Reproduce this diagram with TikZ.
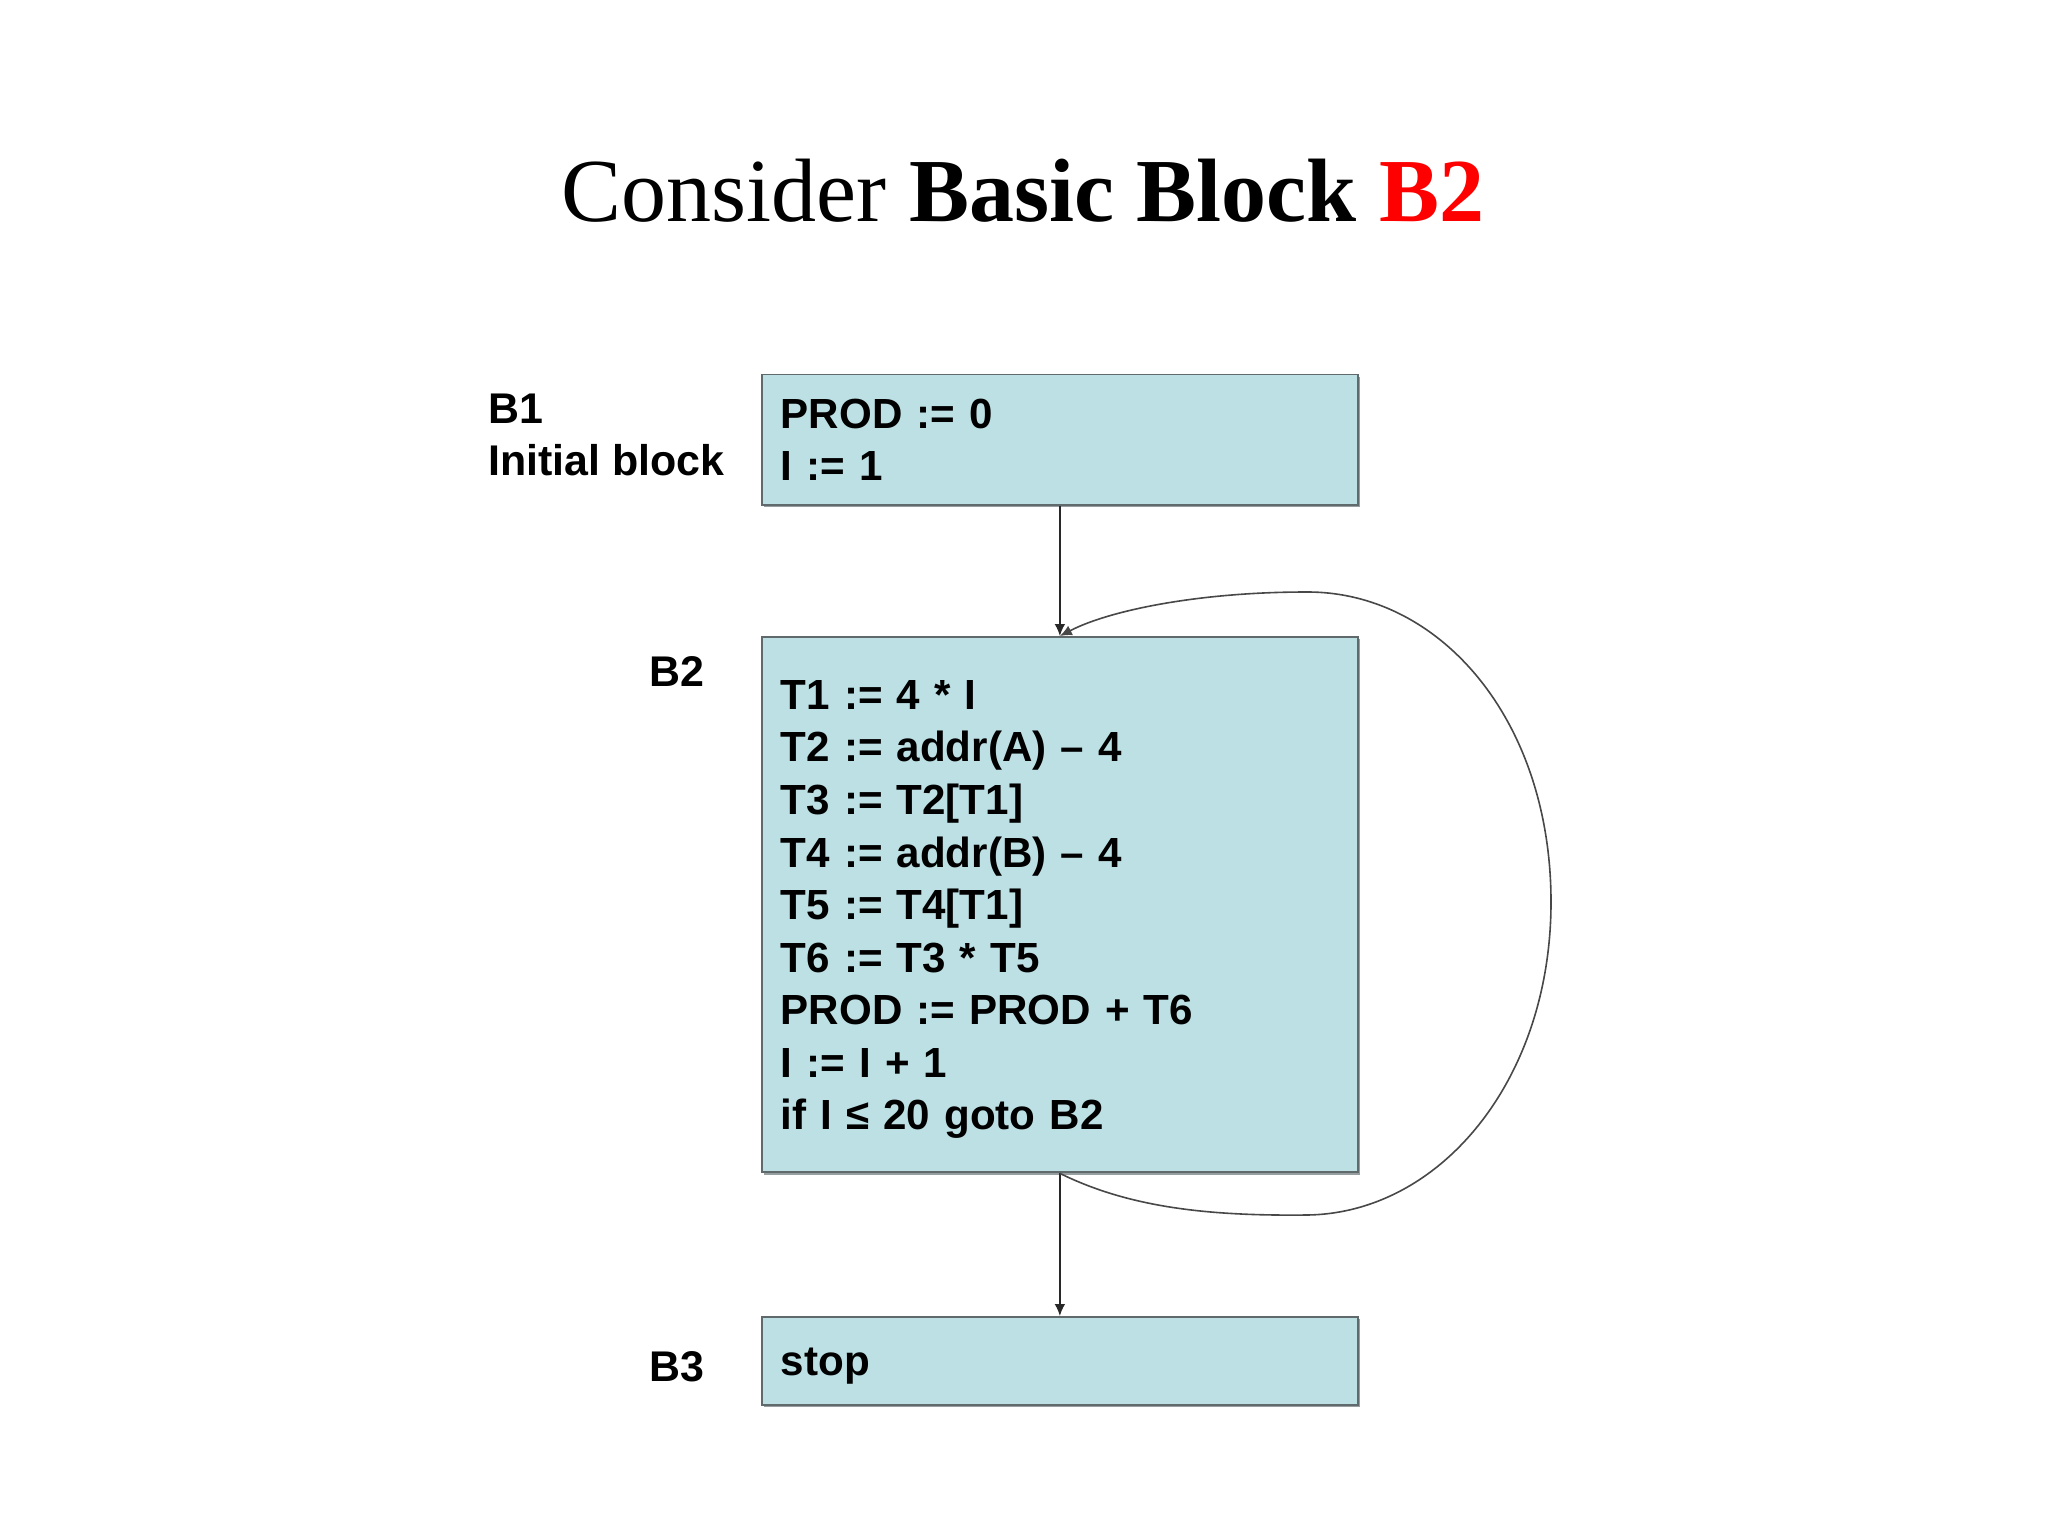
\documentclass[tikz,border=0pt]{standalone}
\usepackage{fontspec}
\setmainfont{Liberation Serif}
\newfontfamily\arialfont{Liberation Sans}
\usetikzlibrary{arrows.meta}
\definecolor{boxfill}{RGB}{188,224,228}
\definecolor{boxline}{RGB}{96,106,108}
\definecolor{shadowgray}{RGB}{150,158,160}
\definecolor{titlered}{RGB}{255,0,0}
\definecolor{connline}{RGB}{40,40,40}
\newcommand{\bodyfont}{\arialfont\bfseries\fontsize{15.8pt}{19.7pt}\selectfont}
\newcommand{\labelfont}{\arialfont\bfseries\fontsize{16.1pt}{19.7pt}\selectfont}
\begin{document}
\begin{tikzpicture}[x=0.375pt,y=-0.375pt,
  blockbox/.style={rectangle, draw=boxline, line width=0.7pt, fill=boxfill,
    preaction={fill=shadowgray, transform canvas={xshift=0.8pt,yshift=-0.8pt}},
    inner xsep=7.1pt, inner ysep=0pt, text width=209.25pt, align=left,
    font=\bodyfont, anchor=north west},
  blocklabel/.style={inner sep=0pt, font=\labelfont, align=left},
  conn/.style={draw=connline, line width=0.6pt, -{Latex[length=4.5pt,width=4pt]}},
  loopconn/.style={draw=connline!85, line width=0.6pt, -{Latex[length=4.5pt,width=4pt]}}
]
\useasboundingbox (0,0) rectangle (2048,1536);
\fill[white] (0,0) rectangle (2048,1536);

% title
\node[anchor=base, inner sep=0pt, font=\fontsize{33.75pt}{40pt}\selectfont] (title) at (1023,221)
  {Consider \textbf{Basic Block \textcolor{titlered}{B2}}};

% blocks
\node[blockbox, minimum height=48.9pt] (b1) at (761,373.5)
  {PROD := 0\\I := 1};
\node[blockbox, minimum height=200.8pt] (b2) at (761,636)
  {\rule{0pt}{14.5pt}T1 := 4 * I\\
   T2 := addr(A) – 4\\
   T3 := T2[T1]\\
   T4 := addr(B) – 4\\
   T5 := T4[T1]\\
   T6 := T3 * T5\\
   PROD := PROD + T6\\
   I := I + 1\\
   if I ≤ 20 goto B2};
\node[blockbox, minimum height=33pt] (b3) at (761,1316)
  {\rule{0pt}{14.2pt}stop};

% labels
\node[blocklabel, anchor=north west] (lb1) at (488,393) {B1\\Initial block};
\node[blocklabel, anchor=base west] (lb2) at (649,686) {B2};
\node[blocklabel, anchor=base west] (lb3) at (649,1381) {B3};

% connectors
\draw[conn] (b1.south) -- (b2.north);
\draw[conn] (b2.south) -- (b3.north);
\draw[loopconn] (b2.south) .. controls (1130,1208) and (1210,1216) .. (1306,1215)
  .. controls (1440,1214) and (1551,1080) .. (1551,902)
  .. controls (1551,720) and (1440,591) .. (1306,592)
  .. controls (1200,592) and (1110,610) .. (b2.north);
\end{tikzpicture}
\end{document}
